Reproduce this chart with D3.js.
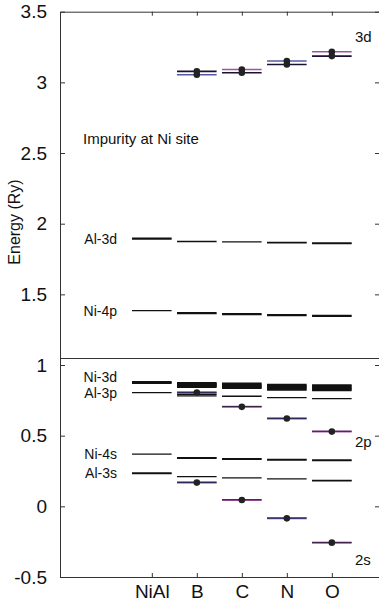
<!doctype html>
<html>
<head>
<meta charset="utf-8">
<title>levels</title>
<script src="https://cdn.jsdelivr.net/npm/d3@7"></script>
<style>
	body { margin: 0; background: #fff; }
	text { font-family: "Liberation Sans", Arial, sans-serif; }
</style>
</head>
<body>
<script>
// systems along x
var systems = ["NiAl", "B", "C", "N", "O"]
var yTicks = [-0.5, 0, 0.5, 1, 1.5, 2, 2.5, 3, 3.5]

// host-derived levels (Ry); several close values make the thick bands
var al3d = [[1.897, 1.891], [1.874], [1.872], [1.868, 1.864], [1.864, 1.859]]
var ni4p = [[1.385], [1.370, 1.363], [1.363, 1.356], [1.356, 1.349], [1.351, 1.344]]
var ni3d = [[0.879, 0.872],
	[0.872, 0.865, 0.858, 0.851, 0.845],
	[0.869, 0.861, 0.853, 0.845, 0.837],
	[0.861, 0.852, 0.843, 0.834, 0.825],
	[0.857, 0.848, 0.839, 0.830, 0.821]]
var al3p = [[0.805], [0.793, 0.781], [0.779], [0.769], [0.762]]
var ni4s = [[0.369], [0.345, 0.340], [0.338, 0.333], [0.333, 0.328], [0.329, 0.323]]
var al3s = [[0.236, 0.231], [0.210], [0.201], [0.194], [0.184, 0.180]]

// impurity levels (index 1..4 = B..O), each with colour and partner
var imp3dColour = [null, 3.054, 3.091, 3.151, 3.217]
var imp3dDark = [null, 3.078, 3.068, 3.126, 3.186]
var imp2p = [null, 0.805, 0.704, 0.621, 0.529]
var imp2s = [null, 0.168, 0.045, -0.085, -0.257]

var hostLabels = [["Al-3d", 1.894], ["Ni-4p", 1.385], ["Ni-3d", 0.913], ["Al-3p", 0.800], ["Ni-4s", 0.369], ["Al-3s", 0.234]]

var width = 379, height = 610
var blue = "#5757a8", magenta = "#a4529f"

var svg = d3.select("body").append("svg")
	.attr("width", width)
	.attr("height", height)

var x = d3.scaleLinear().domain([-2.04, 5.07]).range([60, 380])
var y = d3.scaleLinear().domain([-0.5, 3.5]).range([577, 11.7])
var half = 0.44

function colourOf(i) { return (i == 1 || i == 3) ? blue : magenta }

function drawLevel(i, e, col, w) {
	svg.append("line")
		.attr("x1", x(i - half)).attr("x2", x(i + half))
		.attr("y1", y(e)).attr("y2", y(e))
		.attr("stroke", col)
		.attr("stroke-width", w)
}

// host levels
var hosts = [al3d, ni4p, ni3d, al3p, ni4s, al3s]
hosts.forEach(function(h, k) {
	h.forEach(function(vals, i) {
		vals.forEach(function(e) {
			drawLevel(i, e, "#111", k == 2 ? 2 : 1.3)
		})
	})
})

// impurity 3d pairs
for (var i = 1; i < 5; i++) {
	drawLevel(i, imp3dColour[i], colourOf(i), 1.6)
	drawLevel(i, imp3dDark[i], "#1a1230", 1.6)
	svg.append("circle").attr("cx", x(i)).attr("cy", y(imp3dColour[i])).attr("r", 3.3).attr("fill", "#222")
	svg.append("circle").attr("cx", x(i)).attr("cy", y(imp3dDark[i])).attr("r", 3.3).attr("fill", "#222")
}

// impurity 2p and 2s
;[imp2p, imp2s].forEach(function(arr) {
	for (var i = 1; i < 5; i++) {
		drawLevel(i, arr[i], colourOf(i), 2)
		drawLevel(i, arr[i] + 0.002, "#1a1230", 0.8)
		svg.append("circle").attr("cx", x(i)).attr("cy", y(arr[i])).attr("r", 3.3).attr("fill", "#222")
	}
})

// axes
var fmt = function(d) { return String(d) }
svg.append("g")
	.attr("transform", "translate(60,0)")
	.call(d3.axisLeft(y).tickValues(yTicks).tickFormat(fmt).tickSizeInner(-5).tickSizeOuter(0).tickPadding(13))
svg.append("g")
	.attr("transform", "translate(380,0)")
	.call(d3.axisRight(y).tickValues(yTicks).tickFormat("").tickSizeInner(-5).tickSizeOuter(0))
svg.append("g")
	.attr("transform", "translate(0,577)")
	.call(d3.axisBottom(x).tickValues(d3.range(systems.length)).tickFormat(function(i) { return systems[i] }).tickSizeInner(-4).tickSizeOuter(0).tickPadding(8))
svg.append("g")
	.attr("transform", "translate(0,11.7)")
	.call(d3.axisTop(x).tickValues(d3.range(systems.length)).tickFormat("").tickSizeInner(-4).tickSizeOuter(0))

svg.selectAll(".domain").attr("stroke", "#333")
svg.selectAll(".tick line").attr("stroke", "#333")
svg.selectAll(".tick text").attr("font-size", 19).attr("fill", "#111")
	.attr("font-family", "'Liberation Sans', Arial, sans-serif")

// panel separator
svg.append("line")
	.attr("x1", 60).attr("x2", 380)
	.attr("y1", y(1.046)).attr("y2", y(1.046))
	.attr("stroke", "#333").attr("stroke-width", 1.2)

// labels
hostLabels.forEach(function(l) {
	svg.append("text")
		.attr("x", 117).attr("y", y(l[1]))
		.attr("dy", "0.35em")
		.attr("text-anchor", "end")
		.attr("font-size", 14)
		.attr("fill", "#111")
		.text(l[0])
})

svg.append("text").attr("x", 83).attr("y", 143.5).attr("font-size", 15).attr("fill", "#111").text("Impurity at Ni site")
svg.append("text").attr("x", 355).attr("y", 41.5).attr("font-size", 15).attr("fill", "#111").text("3d")
svg.append("text").attr("x", 355).attr("y", 447).attr("font-size", 15).attr("fill", "#111").text("2p")
svg.append("text").attr("x", 355).attr("y", 565).attr("font-size", 15).attr("fill", "#111").text("2s")

svg.append("text")
	.attr("transform", "translate(20,222) rotate(-90)")
	.attr("text-anchor", "middle")
	.attr("font-size", 16)
	.attr("fill", "#111")
	.text("Energy (Ry)")
</script>
</body>
</html>
